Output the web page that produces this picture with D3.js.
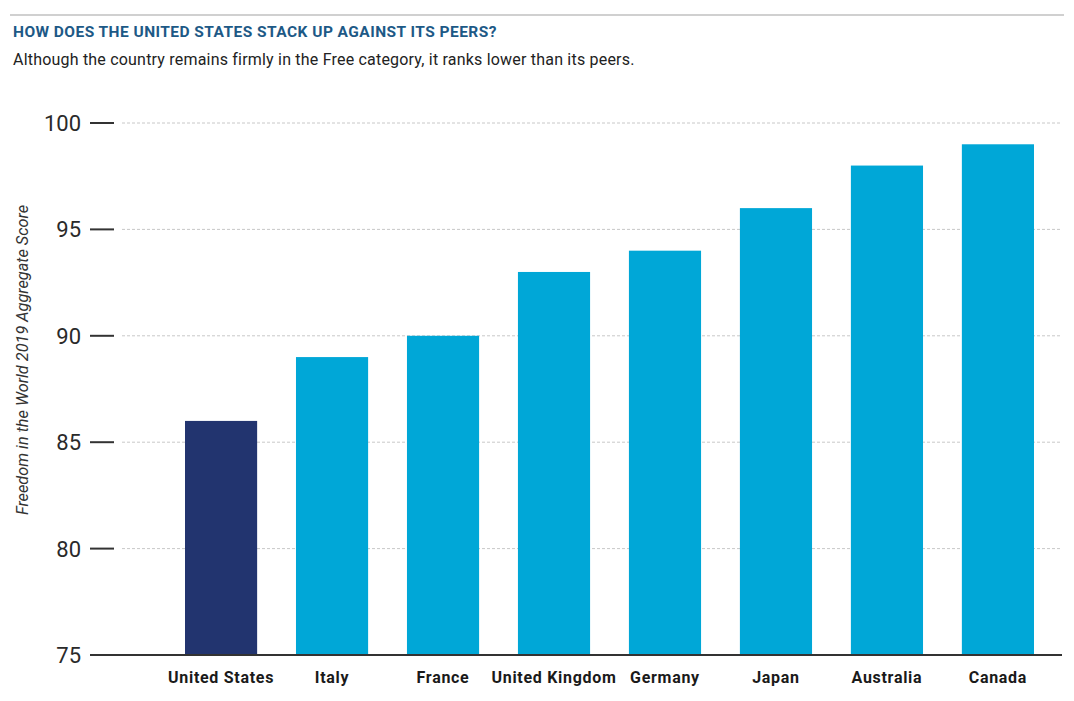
<!DOCTYPE html>
<html>
<head>
<meta charset="utf-8">
<script src="https://cdn.jsdelivr.net/npm/d3@7"></script>
<style>
  body { margin: 0; background: #fff; }
  text { font-family: Roboto, "Open Sans", sans-serif; }
</style>
</head>
<body>
<script>
const countries = ["United States", "Italy", "France", "United Kingdom", "Germany", "Japan", "Australia", "Canada"];
const scores = [86, 89, 90, 93, 94, 96, 98, 99];
const yTicks = [75, 80, 85, 90, 95, 100];

const width = 1074, height = 701;

const svg = d3.select("body").append("svg")
    .attr("width", width)
    .attr("height", height);

// top rule
svg.append("line")
    .attr("x1", 10).attr("x2", 1064)
    .attr("y1", 15).attr("y2", 15)
    .attr("stroke", "#d0d0d0")
    .attr("stroke-width", 2);

svg.append("text")
    .attr("x", 13).attr("y", 37)
    .attr("fill", "#1d5986")
    .attr("font-size", 15.5)
    .attr("font-weight", 700)
    .attr("letter-spacing", 0.45)
    .text("HOW DOES THE UNITED STATES STACK UP AGAINST ITS PEERS?");

svg.append("text")
    .attr("x", 13).attr("y", 65)
    .attr("fill", "#222")
    .attr("font-size", 16)
    .attr("letter-spacing", 0.2)
    .text("Although the country remains firmly in the Free category, it ranks lower than its peers.");

const x = d3.scaleBand()
    .domain(countries)
    .range([185, 1034])
    .paddingInner(0.35)
    .paddingOuter(0);

const y = d3.scaleLinear()
    .domain([75, 100])
    .range([655, 123]);

// gridlines
svg.append("g")
  .selectAll("line")
  .data(yTicks.filter(d => d > 75))
  .join("line")
    .attr("x1", 122).attr("x2", 1062)
    .attr("y1", d => y(d)).attr("y2", d => y(d))
    .attr("stroke", "#c8c8c8")
    .attr("stroke-dasharray", "3,2");

// bars
svg.append("g")
  .selectAll("rect")
  .data(countries.map((c, i) => ({country: c, score: scores[i]})))
  .join("rect")
    .attr("x", d => x(d.country))
    .attr("width", x.bandwidth())
    .attr("y", d => y(d.score))
    .attr("height", d => y(75) - y(d.score))
    .attr("fill", d => d.country === "United States" ? "#22346f" : "#00a7d7");

// y axis: ticks and labels
const yAxis = svg.append("g");
yAxis.selectAll("line")
  .data(yTicks.filter(d => d > 75))
  .join("line")
    .attr("x1", 90).attr("x2", 114)
    .attr("y1", d => y(d)).attr("y2", d => y(d))
    .attr("stroke", "#333")
    .attr("stroke-width", 2);

yAxis.selectAll("text")
  .data(yTicks)
  .join("text")
    .attr("x", 81)
    .attr("y", d => y(d))
    .attr("dy", "0.36em")
    .attr("text-anchor", "end")
    .attr("fill", "#2a2a2a")
    .attr("font-size", 22)
    .text(d => d);

// baseline
svg.append("line")
    .attr("x1", 90).attr("x2", 1062)
    .attr("y1", y(75)).attr("y2", y(75))
    .attr("stroke", "#333")
    .attr("stroke-width", 2);

// x labels
svg.append("g")
  .selectAll("text")
  .data(countries)
  .join("text")
    .attr("x", d => x(d) + x.bandwidth() / 2)
    .attr("y", 683)
    .attr("text-anchor", "middle")
    .attr("fill", "#1a1a1a")
    .attr("font-size", 16)
    .attr("font-weight", 700)
    .attr("letter-spacing", 0.7)
    .text(d => d);

svg.append("text")
    .attr("transform", "translate(28,360) rotate(-90)")
    .attr("text-anchor", "middle")
    .attr("fill", "#333")
    .attr("font-size", 16.3)
    .attr("font-style", "italic")
    .text("Freedom in the World 2019 Aggregate Score");
</script>
</body>
</html>
